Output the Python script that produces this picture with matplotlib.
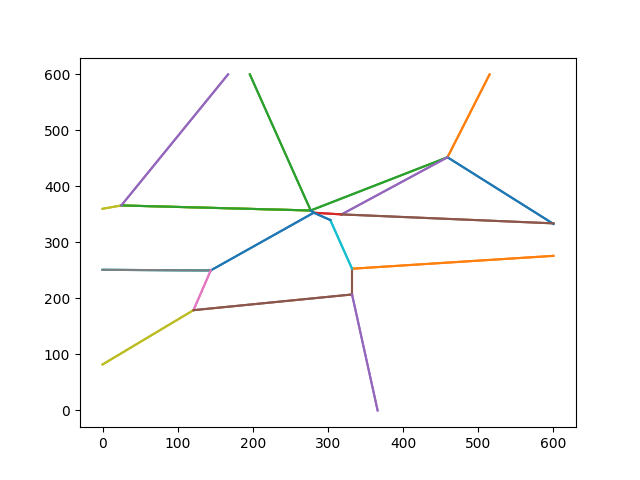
import matplotlib
matplotlib.use("Agg")
import matplotlib.pyplot as plt

# Voronoi-like edges: (x0, y0) -> (x1, y1)
x0 = [0, 25, 25, 25, 196, 277, 459, 459, 459, 281, 318, 281, 0, 0, 144, 0, 121, 332, 332, 332, 332, 303, 277]
y0 = [360, 366, 366, 366, 600, 357, 452, 452, 452, 353, 350, 353, 251, 251, 250, 82, 179, 207, 207, 253, 253, 340, 357]
x1 = [25, 277, 277, 167, 277, 459, 515, 600, 318, 318, 600, 144, 144, 144, 121, 121, 332, 332, 366, 600, 303, 281, 281]
y1 = [366, 357, 357, 600, 357, 452, 600, 333, 350, 350, 334, 250, 250, 250, 179, 179, 207, 253, 0, 276, 340, 353, 353]
edge_colors = ["C8", "C8", "C2", "C4", "C2", "C2", "C1", "C0", "C4", "C3", "C5", "C0",
               "C9", "C7", "C6", "C8", "C5", "C5", "C4", "C1", "C9", "C0", "C0"]

plt.figure(figsize=(6.4, 4.8), dpi=100)
# each edge is drawn twice (once per neighbouring cell), which makes lines look heavier
for _ in range(2):
    for xa, ya, xb, yb, c in zip(x0, y0, x1, y1, edge_colors):
        plt.plot([xa, xb], [ya, yb], color=c)

plt.xticks([0, 100, 200, 300, 400, 500, 600])
plt.yticks([0, 100, 200, 300, 400, 500, 600])
plt.savefig("out.png")
